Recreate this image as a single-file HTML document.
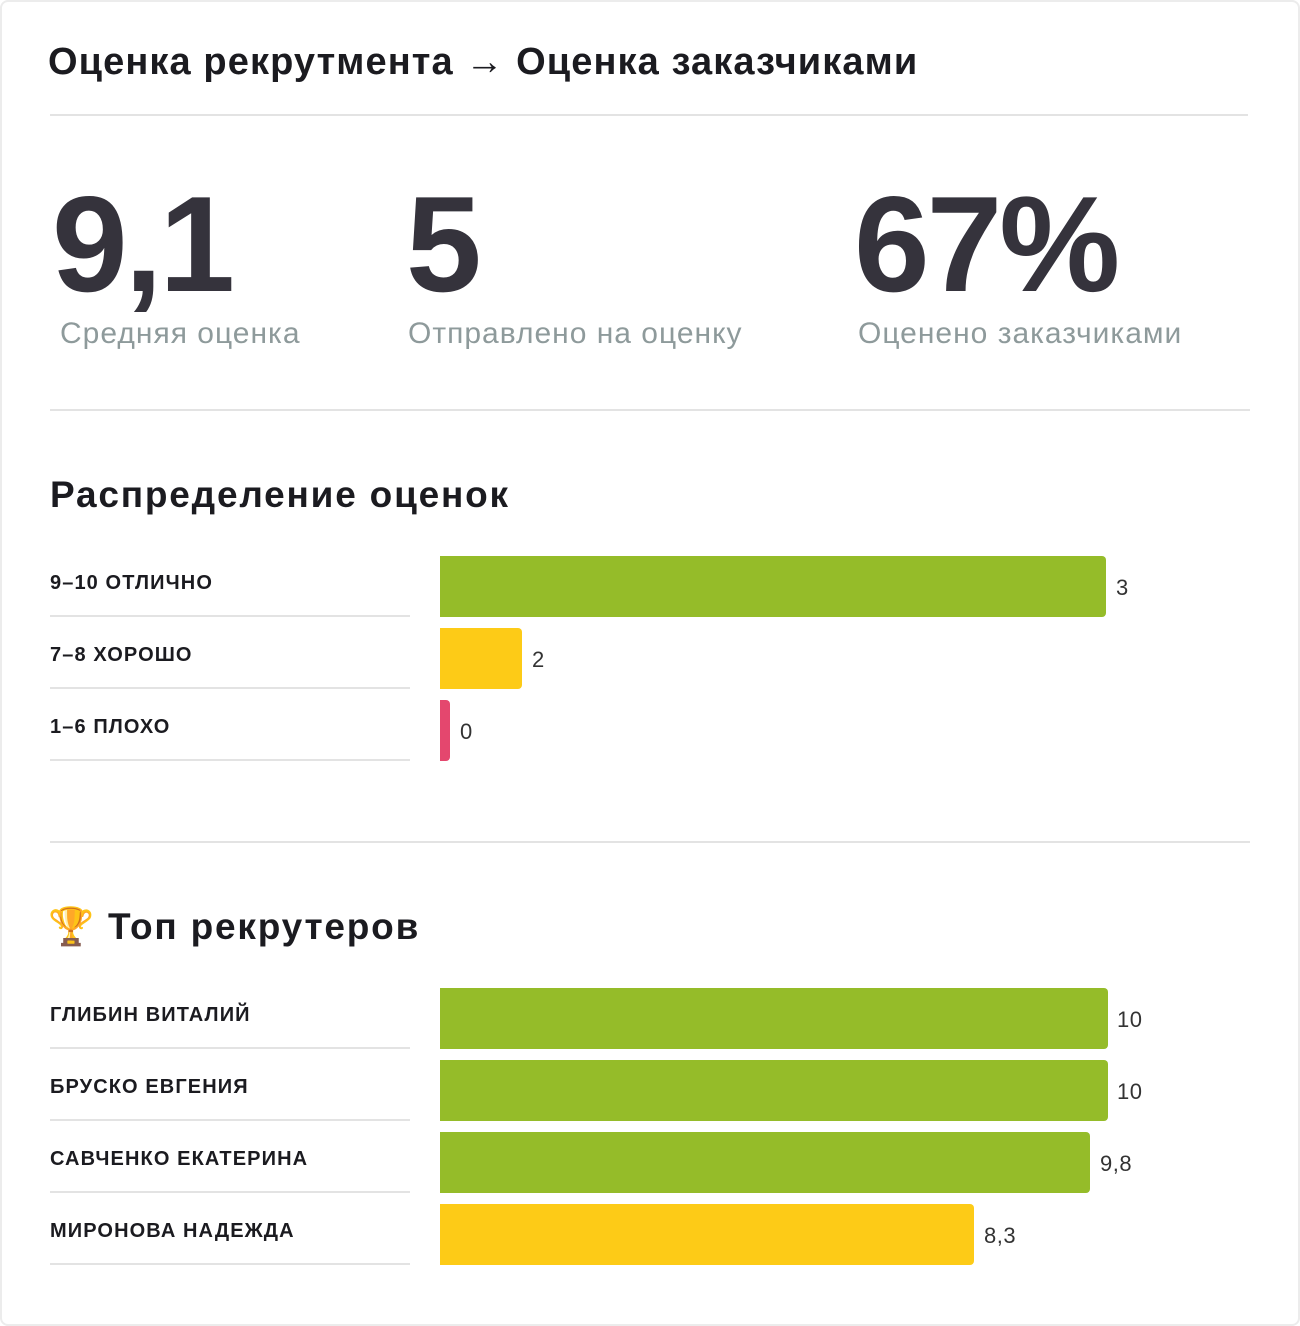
<!DOCTYPE html>
<html><head><meta charset="utf-8"><style>
*{margin:0;padding:0;box-sizing:border-box}
body{width:1300px;height:1326px;background:#fff;font-family:"Liberation Sans","DejaVu Sans",sans-serif;position:relative;overflow:hidden;color:#1b1b20}
.card{position:absolute;left:0;top:0;width:1300px;height:1326px;border:2px solid #ececec;border-radius:8px}
.abs{position:absolute;white-space:nowrap}
.hr{position:absolute;height:2px;background:#e3e3e3}
.big{font-size:136px;font-weight:bold;color:#35333c;letter-spacing:-3px;line-height:1}
.lbl{font-size:30px;color:#8e9a9b;letter-spacing:1px}
.h2{font-size:37px;font-weight:bold;letter-spacing:1.8px}
.rl{font-size:20px;font-weight:bold;left:50px;letter-spacing:1.1px}
.bar{position:absolute;left:440px;height:61px;border-radius:0 4px 4px 0}
.val{font-size:22px;color:#333;letter-spacing:0.5px}
.g{background:#95bc29}.y{background:#fdcb17}.r{background:#e4476e}
</style></head><body>
<div class="card"></div>
<div class="abs" style="left:48px;top:41px;font-size:38px;font-weight:bold;letter-spacing:1.1px">Оценка рекрутмента → Оценка заказчиками</div>
<div class="hr" style="left:50px;top:114px;width:1198px"></div>
<div class="abs big" style="left:52px;top:176px">9,1</div>
<div class="abs big" style="left:406px;top:176px">5</div>
<div class="abs big" style="left:854px;top:176px">67%</div>
<div class="abs lbl" style="left:60px;top:317px">Средняя оценка</div>
<div class="abs lbl" style="left:408px;top:317px">Отправлено на оценку</div>
<div class="abs lbl" style="left:858px;top:317px">Оценено заказчиками</div>
<div class="hr" style="left:50px;top:409px;width:1200px"></div>
<div class="abs h2" style="left:50px;top:474px">Распределение оценок</div>

<div class="abs rl" style="top:572px">9–10 ОТЛИЧНО</div>
<div class="hr" style="left:50px;top:615px;width:360px"></div>
<div class="bar g" style="top:556px;width:666px"></div>
<div class="abs val" style="left:1116px;top:575px">3</div>
<div class="abs rl" style="top:644px">7–8 ХОРОШО</div>
<div class="hr" style="left:50px;top:687px;width:360px"></div>
<div class="bar y" style="top:628px;width:82px"></div>
<div class="abs val" style="left:532px;top:647px">2</div>
<div class="abs rl" style="top:716px">1–6 ПЛОХО</div>
<div class="hr" style="left:50px;top:759px;width:360px"></div>
<div class="bar r" style="top:700px;width:10px"></div>
<div class="abs val" style="left:460px;top:719px">0</div>

<div class="hr" style="left:50px;top:841px;width:1200px"></div>
<div class="abs h2" style="left:48px;top:906px">🏆 Топ рекрутеров</div>

<div class="abs rl" style="top:1004px">ГЛИБИН ВИТАЛИЙ</div>
<div class="hr" style="left:50px;top:1047px;width:360px"></div>
<div class="bar g" style="top:988px;width:668px"></div>
<div class="abs val" style="left:1117px;top:1007px">10</div>
<div class="abs rl" style="top:1076px">БРУСКО ЕВГЕНИЯ</div>
<div class="hr" style="left:50px;top:1119px;width:360px"></div>
<div class="bar g" style="top:1060px;width:668px"></div>
<div class="abs val" style="left:1117px;top:1079px">10</div>
<div class="abs rl" style="top:1148px">САВЧЕНКО ЕКАТЕРИНА</div>
<div class="hr" style="left:50px;top:1191px;width:360px"></div>
<div class="bar g" style="top:1132px;width:650px"></div>
<div class="abs val" style="left:1100px;top:1151px">9,8</div>
<div class="abs rl" style="top:1220px">МИРОНОВА НАДЕЖДА</div>
<div class="hr" style="left:50px;top:1263px;width:360px"></div>
<div class="bar y" style="top:1204px;width:534px"></div>
<div class="abs val" style="left:984px;top:1223px">8,3</div>
</body></html>
